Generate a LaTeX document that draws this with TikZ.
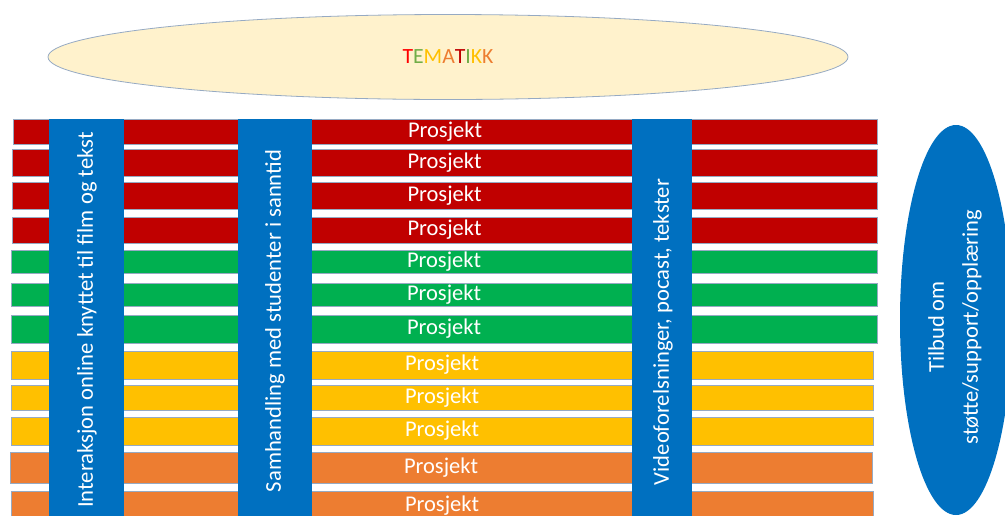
\documentclass[tikz,border=0pt]{standalone}
\usepackage{fontspec}
\setmainfont{Carlito}
\usetikzlibrary{shapes.geometric}

\definecolor{prosjektred}{RGB}{192,0,0}
\definecolor{prosjektgreen}{RGB}{0,176,80}
\definecolor{prosjektyellow}{RGB}{255,192,0}
\definecolor{prosjektorange}{RGB}{237,125,49}
\definecolor{kanalblue}{RGB}{0,112,192}
\definecolor{temacream}{RGB}{255,242,204}
\definecolor{kantgray}{RGB}{150,170,195}
\definecolor{lightgreen}{RGB}{112,173,71}
\definecolor{darkred}{RGB}{192,0,0}

\tikzset{
    prosjekt/.style={
        draw=kantgray,
        line width=0.6pt,
        rectangle,
        inner sep=0pt,
        text=white,
        text height=14pt,
        text depth=3pt,
        font=\fontsize{22.5}{26}\selectfont
    },
    kanal/.style={
        rectangle,
        fill=kanalblue,
        inner sep=0pt,
        minimum height=402pt
    },
    kanaltekst/.style={
        rotate=90,
        text=white,
        inner sep=0pt,
        font=\fontsize{22.6}{26}\selectfont
    }
}

\begin{document}
\begin{tikzpicture}[x=1pt,y=-1pt]

    \useasboundingbox (0,0) rectangle (1005,515);

    % the project bars, from top to bottom: centre x, centre y, width, height, colour
    \foreach \cx/\cy/\w/\h/\col [count=\i] in {
        445/131.5/864/25/prosjektred,
        444.5/162.5/865/27/prosjektred,
        444.5/195.5/865/27/prosjektred,
        444.5/230/865/26/prosjektred,
        444/261.5/866/23/prosjektgreen,
        444/294.5/866/23/prosjektgreen,
        444/329/866/28/prosjektgreen,
        442/365/862/28/prosjektyellow,
        442/397.5/862/25/prosjektyellow,
        442/431/862/28/prosjektyellow,
        441/467.5/862/31/prosjektorange,
        442/505.5/862/29/prosjektorange}
    {
        \node[prosjekt,
            fill=\col,
            minimum width=\w pt,
            minimum height=\h pt
        ] (bar\i) at (\cx,\cy){Prosjekt};
    }

    \node[kanal, minimum width=75pt] (kanalA) at (86.5,320){};
    \node[kanal, minimum width=74pt] (kanalB) at (275,320){};
    \node[kanal, minimum width=60pt] (kanalC) at (662,320){};

    \node[kanaltekst] (tekstA) at (87,320)
        {Interaksjon online knyttet til film og tekst};
    \node[kanaltekst] (tekstB) at (275,321)
        {Samhandling med studenter i sanntid};
    \node[kanaltekst] (tekstC) at (663,332)
        {Videoforelsninger, pocast, tekster};

    \node[draw=kantgray,
        line width=0.8pt,
        ellipse,
        fill=temacream,
        minimum width=800pt,
        minimum height=85pt,
        font=\fontsize{21.7}{25}\selectfont
    ] (tema) at (448,57){\textcolor{red}{T}\textcolor{lightgreen}{E}\textcolor{prosjektyellow}{M}\textcolor{prosjektorange}{A}\textcolor{darkred}{T}\textcolor{lightgreen}{I}\textcolor{prosjektyellow}{K}\textcolor{prosjektorange}{K}};

    \node[ellipse,
        fill=kanalblue,
        minimum width=112pt,
        minimum height=390pt
    ] (tilbud) at (956,320){};
    \node[rotate=90,
        text=white,
        align=center,
        font=\fontsize{22.5}{34}\selectfont
    ] (tilbudtekst) at (955,327){Tilbud om\\støtte/support/opplæring};

\end{tikzpicture}
\end{document}
